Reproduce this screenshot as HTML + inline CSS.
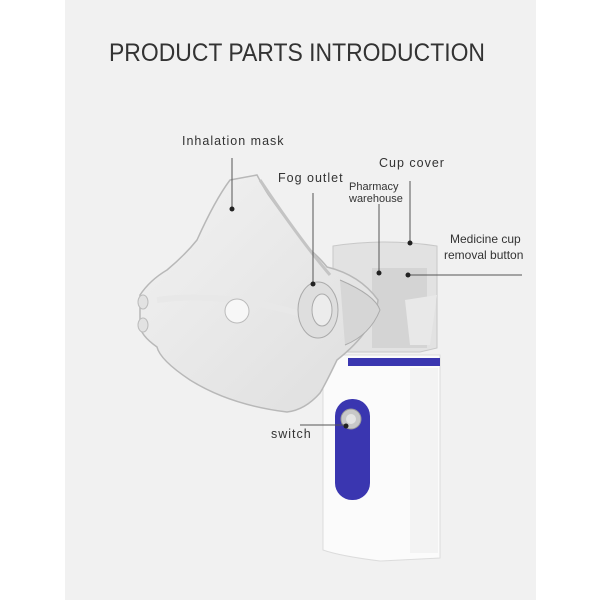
<!DOCTYPE html>
<html><head><style>
body{margin:0;width:600px;height:600px;background:#fff;overflow:hidden}
svg{display:block}
text{font-family:"Liberation Sans",sans-serif;fill:#333}
</style></head><body>
<svg width="600" height="600" viewBox="0 0 600 600">
<defs>
<linearGradient id="mg" x1="0" y1="0" x2="1" y2="1">
<stop offset="0" stop-color="#f2f2f2"/><stop offset="1" stop-color="#dedede"/>
</linearGradient>
</defs>
<rect x="65" y="0" width="471" height="600" fill="#f1f1f1"/>
<text x="109" y="61" font-size="25" fill="#3a3a3a" textLength="376" lengthAdjust="spacingAndGlyphs">PRODUCT PARTS INTRODUCTION</text>
<!-- device body -->
<path d="M323 355 L440 355 L440 558 L380 561 Q340 556 323 550 Z" fill="#fbfbfb" stroke="#dcdcdc"/>
<rect x="410" y="368" width="28" height="185" fill="#f3f3f3"/>
<rect x="348" y="358" width="92" height="8" fill="#3a36b0"/>
<rect x="335" y="399" width="35" height="101" rx="17" fill="#3a36b0"/>
<circle cx="351" cy="419" r="10" fill="#c8c8c8" stroke="#999"/>
<circle cx="351" cy="419" r="5" fill="#e4e4e4"/>
<!-- cup -->
<path d="M333 246 Q385 238 437 246 L437 348 L420 352 L345 352 L333 340 Z" fill="#e2e2e2" stroke="#c8c8c8"/>
<rect x="372" y="268" width="55" height="80" fill="#cfcfcf" opacity=".7"/>
<path d="M405 300 L437 295 L430 345 L410 345 Z" fill="#e8e8e8"/>
<!-- mask -->
<path d="M230 180 L257 175 Q265 190 270 197 Q290 225 307 247 Q320 258 327 267 Q360 275 378 300 Q375 330 337 360 Q325 385 320 393 Q305 410 287 412 Q230 405 190 380 Q160 360 157 347 Q140 335 140 325 L140 295 Q150 280 167 270 Q185 255 197 240 Q215 200 230 180 Z" fill="url(#mg)" stroke="#b8b8b8" stroke-width="1.5"/>
<path d="M157 300 Q230 290 320 320" stroke="#e8e8e8" stroke-width="6" fill="none"/>
<path d="M260 180 Q300 240 330 275" stroke="#c4c4c4" stroke-width="3" fill="none"/>
<circle cx="237" cy="311" r="12" fill="#f7f7f7" stroke="#bbb"/>
<ellipse cx="318" cy="310" rx="20" ry="28" fill="#dedede" stroke="#aaa"/>
<ellipse cx="322" cy="310" rx="10" ry="16" fill="#ececec" stroke="#aaa"/>
<path d="M340 280 Q375 295 380 310 Q370 335 345 345" fill="#d6d6d6" stroke="#aaa"/>
<ellipse cx="143" cy="302" rx="5" ry="7" fill="#e2e2e2" stroke="#bbb"/>
<ellipse cx="143" cy="325" rx="5" ry="7" fill="#e2e2e2" stroke="#bbb"/>
<!-- labels -->
<g font-size="12.5" letter-spacing="1">
<text x="182" y="145">Inhalation mask</text>
<text x="278" y="182">Fog outlet</text>
<text x="379" y="167">Cup cover</text>
<text x="271" y="438">switch</text>
</g>
<g font-size="11">
<text x="349" y="190">Pharmacy</text>
<text x="349" y="202">warehouse</text>
</g>
<g font-size="12">
<text x="450" y="243">Medicine cup</text>
<text x="444" y="259">removal button</text>
</g>
<g stroke="#555" stroke-width="1" fill="none">
<line x1="232" y1="158" x2="232" y2="209"/>
<line x1="313" y1="193" x2="313" y2="284"/>
<line x1="410" y1="181" x2="410" y2="243"/>
<line x1="379" y1="204" x2="379" y2="273"/>
<line x1="408" y1="275" x2="522" y2="275"/>
<line x1="300" y1="425" x2="346" y2="425"/>
</g>
<g fill="#222">
<circle cx="232" cy="209" r="2.5"/>
<circle cx="313" cy="284" r="2.5"/>
<circle cx="410" cy="243" r="2.5"/>
<circle cx="379" cy="273" r="2.5"/>
<circle cx="408" cy="275" r="2.5"/>
<circle cx="346" cy="426" r="2.5"/>
</g>
</svg>
</body></html>
